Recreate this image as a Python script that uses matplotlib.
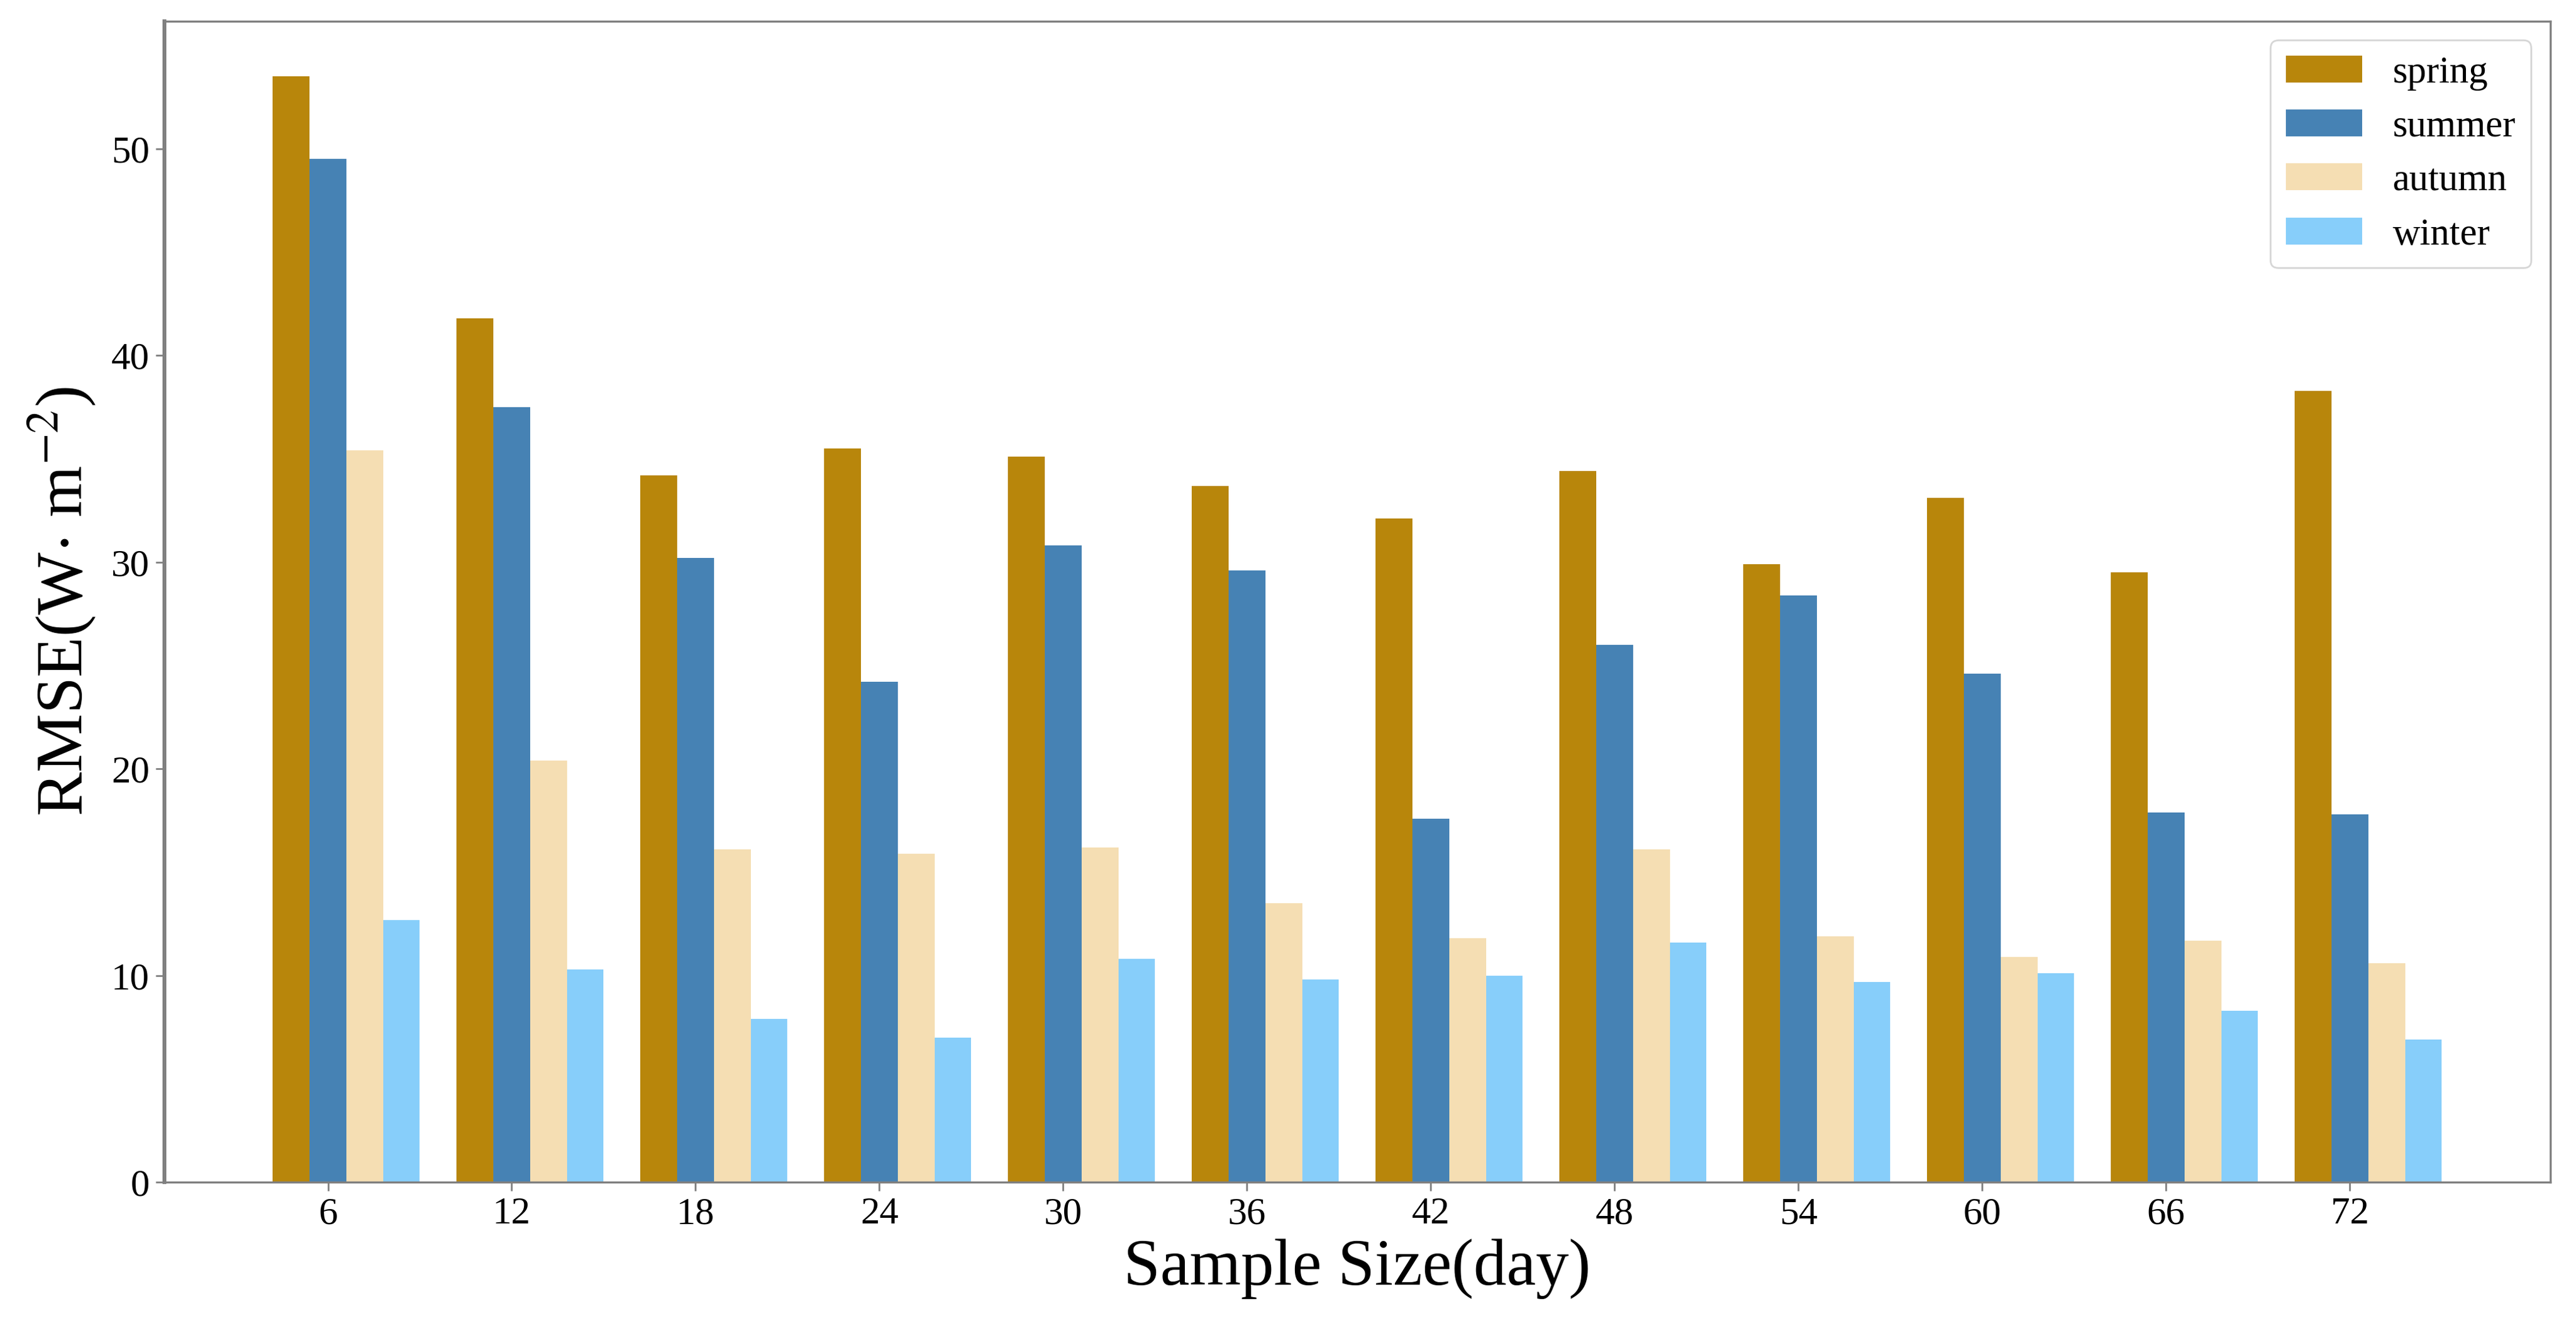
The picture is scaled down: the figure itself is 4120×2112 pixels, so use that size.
import numpy as np
import matplotlib
matplotlib.use("Agg")
import matplotlib.pyplot as plt

# ---------- Data ----------
sample_sizes = [6, 12, 18, 24, 30, 36, 42, 48, 54, 60, 66, 72]
spring = [53.5, 41.8, 34.2, 35.5, 35.1, 33.7, 32.1, 34.4, 29.9, 33.1, 29.5, 38.3]
summer = [49.5, 37.5, 30.2, 24.2, 30.8, 29.6, 17.6, 26.0, 28.4, 24.6, 17.9, 17.8]
autumn = [35.4, 20.4, 16.1, 15.9, 16.2, 13.5, 11.8, 16.1, 11.9, 10.9, 11.7, 10.6]
winter = [12.7, 10.3, 7.9, 7.0, 10.8, 9.8, 10.0, 11.6, 9.7, 10.1, 8.3, 6.9]

seasons = ["spring", "summer", "autumn", "winter"]
colors = ["darkgoldenrod", "steelblue", "wheat", "lightskyblue"]

plt.rcParams["font.family"] = "serif"
plt.rcParams["font.serif"] = ["Liberation Serif", "DejaVu Serif"]
plt.rcParams["mathtext.fontset"] = "stix"

# ---------- Plot ----------
fig = plt.figure(figsize=(20.6, 10.56), dpi=200)
ax = fig.add_axes([0.0638, 0.105, 0.9262, 0.879])

x = np.arange(len(sample_sizes))
w = 0.2
for k, (vals, name, c) in enumerate(zip([spring, summer, autumn, winter], seasons, colors)):
    ax.bar(x + (k - 1) * w, vals, width=w, color=c, label=name)

ax.set_xticks(x)
ax.set_xticklabels([str(s) for s in sample_sizes])
ax.set_yticks([0, 10, 20, 30, 40, 50])
ax.tick_params(axis="both", labelsize=22, length=5, width=1, color="gray")

for sp in ax.spines.values():
    sp.set_color("gray")
    sp.set_linewidth(1.2)
ax.spines["left"].set_linewidth(2.2)

ax.set_xlabel("Sample Size(day)", fontsize=38, labelpad=4)
ax.set_ylabel("RMSE(W$\\cdot$ m$^{-2}$)", fontsize=38, labelpad=8)

ax.legend(loc="upper right", fontsize=22)

fig.savefig("out.png", dpi=200)
